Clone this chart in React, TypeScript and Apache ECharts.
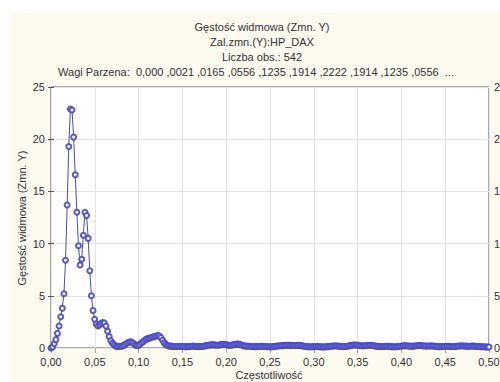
import React, { useEffect, useRef } from "react";
import * as echarts from "echarts";

// Spectral density of HP_DAX (Parzen window), 542 observations.
const N_OBS = 542;

// Spectral density, frequency index 0..27 (main peaks)
const peakValues = [
  0, 0.1, 0.4, 0.8, 1.4, 2.1, 3.0, 3.8, 5.2, 8.4,
  13.7, 19.3, 22.9, 22.8, 20.2, 16.6, 13.0, 9.8, 7.95, 8.5,
  10.8, 13.0, 12.7, 10.5, 7.4, 5.0, 3.6, 2.75,
];

// Frequency index 28..73 (shoulder and secondary bumps)
const shoulderValues = [
  2.3, 2.1, 2.2, 2.35, 2.45, 2.4, 2.1, 1.6, 1.1, 0.7,
  0.45, 0.3, 0.2, 0.15, 0.15, 0.15, 0.2, 0.25, 0.35, 0.45,
  0.55, 0.6, 0.55, 0.45, 0.3, 0.25, 0.25, 0.35, 0.5, 0.6,
  0.75, 0.85, 0.9, 0.95, 1.0, 1.05, 1.1, 1.15, 1.2, 1.15,
  1.0, 0.75, 0.5, 0.35, 0.25, 0.2,
];

// Frequency index 74..271 (flat tail up to 0.5)
const tailValues = [
  0.18, 0.16, 0.15, 0.14, 0.14, 0.15, 0.16, 0.15, 0.14, 0.13,
  0.13, 0.14, 0.15, 0.17, 0.18, 0.17, 0.15, 0.14, 0.14, 0.15,
  0.17, 0.2, 0.23, 0.26, 0.28, 0.3, 0.31, 0.3, 0.28, 0.27,
  0.29, 0.32, 0.35, 0.36, 0.34, 0.3, 0.27, 0.26, 0.28, 0.32,
  0.36, 0.38, 0.37, 0.33, 0.28, 0.23, 0.2, 0.18, 0.17, 0.16,
  0.15, 0.14, 0.13, 0.13, 0.14, 0.15, 0.16, 0.16, 0.15, 0.14,
  0.13, 0.12, 0.12, 0.13, 0.15, 0.17, 0.19, 0.21, 0.22, 0.23,
  0.24, 0.25, 0.25, 0.26, 0.26, 0.25, 0.24, 0.24, 0.25, 0.26,
  0.25, 0.23, 0.2, 0.17, 0.15, 0.13, 0.12, 0.12, 0.13, 0.14,
  0.15, 0.14, 0.13, 0.12, 0.11, 0.11, 0.12, 0.13, 0.15, 0.17,
  0.19, 0.2, 0.21, 0.2, 0.18, 0.16, 0.15, 0.14, 0.15, 0.17,
  0.2, 0.23, 0.26, 0.28, 0.29, 0.28, 0.26, 0.24, 0.22, 0.21,
  0.22, 0.24, 0.26, 0.27, 0.26, 0.24, 0.21, 0.18, 0.16, 0.15,
  0.14, 0.14, 0.15, 0.16, 0.17, 0.16, 0.15, 0.13, 0.12, 0.12,
  0.13, 0.15, 0.17, 0.2, 0.22, 0.23, 0.22, 0.2, 0.18, 0.17,
  0.18, 0.2, 0.22, 0.24, 0.25, 0.24, 0.22, 0.2, 0.19, 0.19,
  0.2, 0.21, 0.2, 0.18, 0.16, 0.14, 0.13, 0.13, 0.14, 0.15,
  0.16, 0.17, 0.16, 0.15, 0.14, 0.14, 0.15, 0.17, 0.19, 0.2,
  0.21, 0.2, 0.19, 0.18, 0.17, 0.17, 0.18, 0.19, 0.18, 0.16,
  0.15, 0.14, 0.13, 0.12, 0.12, 0.11, 0.1, 0.1,
];

const titleLines = [
  "Gęstość widmowa (Zmn. Y)",
  "Zal.zmn.(Y):HP_DAX",
  "Liczba obs.: 542",
];
const weightsLine =
  "Wagi Parzena:  0,000 ,0021 ,0165 ,0556 ,1235 ,1914 ,2222 ,1914 ,1235 ,0556  ...";

const X_TITLE = "Częstotliwość";
const Y_TITLE = "Gęstość widmowa (Zmn. Y)";

const FONT = "Liberation Sans, Arial, sans-serif";
const TEXT_COLOR = "#333";
const LINE_BLUE = "#4a4ac4";
const MARKER_BLUE = "#4848c4";

const fmtComma = (v: number, digits: number) =>
  v.toFixed(digits).replace(".", ",");

export default function App() {
  const ref = useRef<HTMLDivElement>(null);

  useEffect(() => {
    document.body.style.margin = "0";
    if (!ref.current) return;
    const chart = echarts.init(ref.current, null, { renderer: "svg" });

    const density = [...peakValues, ...shoulderValues, ...tailValues];
    const points = density.map((v, i) => [i / N_OBS, v]);

    const yAxisCommon = {
      type: "value" as const,
      min: 0,
      max: 25,
      interval: 5,
      axisLine: { show: false },
      axisTick: { show: true, inside: false, length: 3, lineStyle: { color: "#555" } },
    };

    chart.setOption({
      animation: false,
      backgroundColor: "#ffffff",
      textStyle: { fontFamily: FONT },
      graphic: [
        {
          type: "rect",
          z: -10,
          silent: true,
          shape: { x: 10, y: 13, width: 490, height: 369 },
          style: { fill: "#fdfaf0" },
        },
        ...titleLines.map((t, i) => ({
          type: "text",
          x: 262,
          y: 27 + i * 15,
          style: {
            text: t,
            fill: TEXT_COLOR,
            font: `11px ${FONT}`,
            textAlign: "center",
            textVerticalAlign: "middle",
          },
        })),
        {
          type: "text",
          x: 256,
          y: 72,
          style: {
            text: weightsLine,
            fill: TEXT_COLOR,
            font: `11px ${FONT}`,
            textAlign: "center",
            textVerticalAlign: "middle",
          },
        },
        {
          type: "text",
          x: 22,
          y: 218,
          rotation: Math.PI / 2,
          style: {
            text: Y_TITLE,
            fill: TEXT_COLOR,
            font: `11px ${FONT}`,
            textAlign: "center",
            textVerticalAlign: "middle",
          },
        },
        {
          type: "text",
          x: 269,
          y: 375,
          style: {
            text: X_TITLE,
            fill: TEXT_COLOR,
            font: `11px ${FONT}`,
            textAlign: "center",
            textVerticalAlign: "middle",
          },
        },
      ],
      grid: {
        left: 51,
        top: 87,
        width: 438,
        height: 261,
        show: true,
        backgroundColor: "#ffffff",
        borderColor: "#555",
        borderWidth: 1,
        containLabel: false,
        outerBoundsMode: "none",
      },
      xAxis: [
        {
          type: "value",
          min: 0,
          max: 0.5,
          interval: 0.05,
          axisLine: { show: false },
          axisTick: { show: false },
          splitLine: { show: true, lineStyle: { color: "#e4e4e4", width: 1 } },
          axisLabel: {
            color: TEXT_COLOR,
            fontSize: 11,
            fontFamily: FONT,
            margin: 8,
            formatter: (v: number) => fmtComma(v, 2),
          },
        },
        {
          type: "value",
          position: "top",
          min: 0,
          max: 0.5,
          interval: 0.05,
          axisLine: { show: false },
          axisTick: { show: true, inside: true, length: 5, lineStyle: { color: "#aaa" } },
          axisLabel: { show: false },
          splitLine: { show: false },
        },
      ],
      yAxis: [
        {
          ...yAxisCommon,
          position: "left",
          splitLine: { show: true, lineStyle: { color: "#e4e4e4", width: 1 } },
          axisLabel: { color: TEXT_COLOR, fontSize: 11, fontFamily: FONT, margin: 6 },
        },
        {
          ...yAxisCommon,
          position: "right",
          splitLine: { show: false },
          axisLabel: { color: TEXT_COLOR, fontSize: 11, fontFamily: FONT, margin: 5 },
        },
      ],
      series: [
        {
          type: "line",
          data: points,
          xAxisIndex: 0,
          yAxisIndex: 0,
          symbol: "emptyCircle",
          symbolSize: 5,
          showAllSymbol: true,
          clip: true,
          lineStyle: { color: LINE_BLUE, width: 1 },
          itemStyle: { color: MARKER_BLUE, borderWidth: 0.9, opacity: 0.9 },
        },
      ],
    });

    return () => chart.dispose();
  }, []);

  return <div ref={ref} style={{ width: 500, height: 382 }} />;
}
